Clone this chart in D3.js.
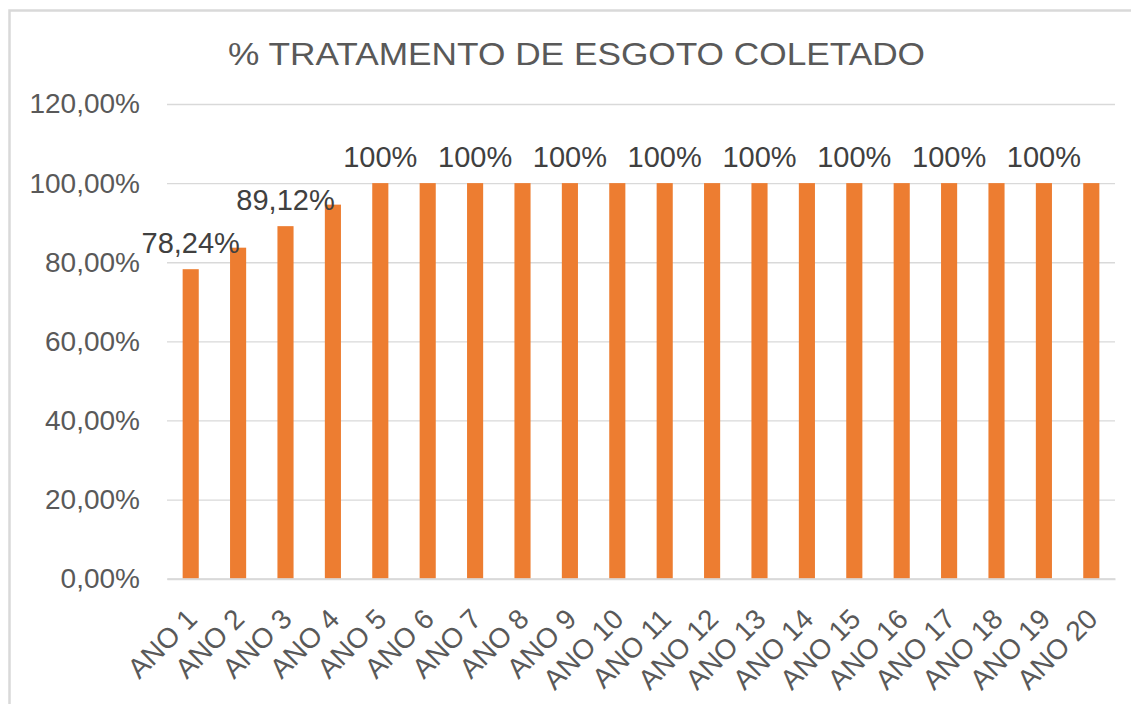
<!DOCTYPE html>
<html>
<head>
<meta charset="utf-8">
<script src="https://cdn.jsdelivr.net/npm/d3@7"></script>
<style>
  body { margin: 0; background: #fff; }
  text { font-family: "Liberation Sans", Arial, sans-serif; }
</style>
</head>
<body>
<svg></svg>
<script>
var years = ["ANO 1", "ANO 2", "ANO 3", "ANO 4", "ANO 5", "ANO 6", "ANO 7", "ANO 8", "ANO 9", "ANO 10",
             "ANO 11", "ANO 12", "ANO 13", "ANO 14", "ANO 15", "ANO 16", "ANO 17", "ANO 18", "ANO 19", "ANO 20"];
var values = [78.24, 83.68, 89.12, 94.56, 100, 100, 100, 100, 100, 100,
              100, 100, 100, 100, 100, 100, 100, 100, 100, 100];
// only some bars carry a label in the original
var labels = ["78,24%", "", "89,12%", "", "100%", "", "100%", "", "100%", "",
              "100%", "", "100%", "", "100%", "", "100%", "", "100%", ""];
var yTicks = [0, 20, 40, 60, 80, 100, 120];

var width = 1131;
var height = 704;
var margin = {top: 104, right: 16, bottom: 125.3, left: 167};

var svg = d3.select("svg")
              .attr("width", width)
              .attr("height", height);

// chart frame
svg.append("rect")
    .attr("x", 9.5)
    .attr("y", 10.5)
    .attr("width", width + 20)
    .attr("height", height + 20)
    .attr("fill", "none")
    .attr("stroke", "#d9d9d9")
    .attr("stroke-width", 2.5);

var x = d3.scaleBand()
            .domain(years)
            .range([margin.left, width - margin.right])
            .paddingInner(0.66)
            .paddingOuter(0.33);

var y = d3.scaleLinear()
            .domain([0, 120])
            .range([height - margin.bottom, margin.top]);

svg.append("text")
    .attr("x", 576.5)
    .attr("y", 64.5)
    .attr("text-anchor", "middle")
    .attr("fill", "#595959")
    .attr("textLength", 697)
    .attr("lengthAdjust", "spacingAndGlyphs")
    .style("font-size", "32px")
    .text("% TRATAMENTO DE ESGOTO COLETADO");

// gridlines + y labels
var yAxis = d3.axisLeft(y)
                .tickValues(yTicks)
                .tickSize(-(width - margin.right - margin.left))
                .tickPadding(27)
                .tickFormat(d => d3.format(".2f")(d).replace(".", ",") + "%");

svg.append("g")
    .attr("transform", "translate(" + margin.left + ",0)")
    .call(yAxis)
    .call(g => g.select(".domain").remove())
    .call(g => g.selectAll(".tick line").attr("stroke", "#d9d9d9").attr("stroke-width", 1.3))
    .call(g => g.selectAll(".tick text")
                  .attr("fill", "#595959")
                  .style("font-size", "28px")
                  .style("font-family", "'Liberation Sans', Arial, sans-serif"));

svg.append("g")
    .selectAll("rect")
    .data(values)
    .enter()
    .append("rect")
      .attr("x", (d, i) => x(years[i]))
      .attr("y", d => y(d))
      .attr("width", x.bandwidth())
      .attr("height", d => y(0) - y(d))
      .attr("fill", "#ed7d31");

// x axis
var xAxis = d3.axisBottom(x).tickSize(0).tickPadding(0);

svg.append("g")
    .attr("transform", "translate(0," + y(0) + ")")
    .call(xAxis)
    .call(g => g.select(".domain").attr("stroke", "#d9d9d9").attr("stroke-width", 2))
    .call(g => g.selectAll(".tick text")
                  .attr("fill", "#595959")
                  .style("font-size", "28px")
                  .style("font-family", "'Liberation Sans', Arial, sans-serif")
                  .attr("text-anchor", "end")
                  .attr("dy", 0)
                  .attr("transform", "translate(8,42) rotate(-45)"));

// data labels
svg.append("g")
    .selectAll("text")
    .data(values)
    .enter()
    .append("text")
      .attr("x", (d, i) => x(years[i]) + x.bandwidth() / 2)
      .attr("y", d => y(d) - 16)
      .attr("text-anchor", "middle")
      .attr("fill", "#404040")
      .style("font-size", "29px")
      .text((d, i) => labels[i]);
</script>
</body>
</html>
